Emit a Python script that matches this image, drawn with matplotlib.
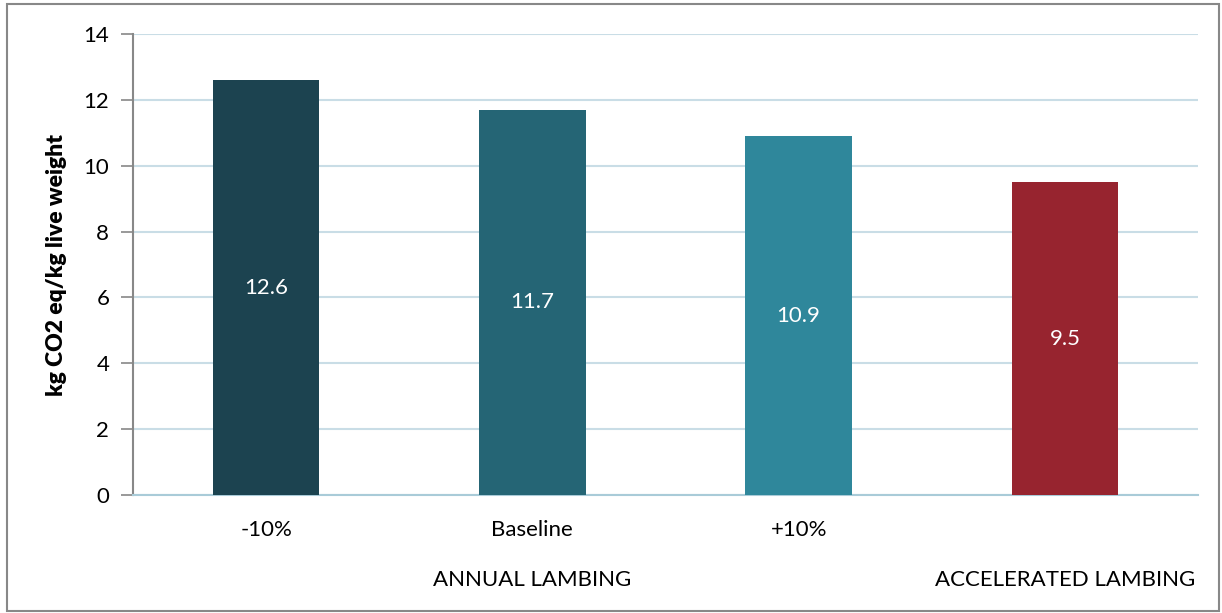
import matplotlib.pyplot as plt
from matplotlib.patches import Rectangle

plt.rcParams['font.family'] = ['Lato', 'DejaVu Sans']

# scenario data
scenarios = ['-10%', 'Baseline', '+10%', '']
emissions = [12.6, 11.7, 10.9, 9.5]
bar_colors = ['#1c4350', '#256575', '#2f879b', '#97242f']
groups = ['ANNUAL LAMBING', 'ACCELERATED LAMBING']
group_spans = [(0, 2), (3, 3)]
y_ticks = [0, 2, 4, 6, 8, 10, 12, 14]

fig = plt.figure(figsize=(12.22, 6.13), dpi=100)
ax = fig.add_axes([0.1088, 0.1925, 0.8716, 0.752])

x = list(range(len(emissions)))
bars = ax.bar(x, emissions, width=0.4, color=bar_colors, zorder=3)

for b, v in zip(bars, emissions):
    ax.text(b.get_x() + b.get_width() / 2, v / 2, f'{v:.1f}',
            ha='center', va='center', color='white', fontsize=16, zorder=4)

ax.set_xlim(-0.5, len(emissions) - 0.5)
ax.set_ylim(0, 14)
ax.set_yticks(y_ticks)
ax.set_yticklabels([str(t) for t in y_ticks], fontsize=16)
ax.tick_params(axis='y', length=9, width=1.2, color='#888888', pad=8)
ax.set_xticks([])

ax.yaxis.grid(True, color='#c9dde6', linewidth=1.5, zorder=0)
ax.set_axisbelow(True)
for side in ['top', 'right']:
    ax.spines[side].set_visible(False)
ax.spines['left'].set_color('#888888')
ax.spines['left'].set_linewidth(1.5)
ax.spines['bottom'].set_color('#a9cbd8')
ax.spines['bottom'].set_linewidth(1.5)

ax.set_ylabel('kg CO2 eq/kg live weight', fontsize=16.5, fontweight='heavy', labelpad=12)

# category labels and group labels under the axis
trans = ax.get_xaxis_transform()
for xi, name in zip(x, scenarios):
    ax.text(xi, -0.075, name, transform=trans, ha='center', va='center', fontsize=16)
for name, (a, b) in zip(groups, group_spans):
    ax.text((a + b) / 2, -0.185, name, transform=trans, ha='center', va='center', fontsize=16)

# outer chart border
fig.patches.append(Rectangle((7 / 1222, 2 / 613), 1212 / 1222, 607 / 613,
                             transform=fig.transFigure, fill=False,
                             edgecolor='#888888', linewidth=1.5))

fig.savefig('out.png', dpi=100)
